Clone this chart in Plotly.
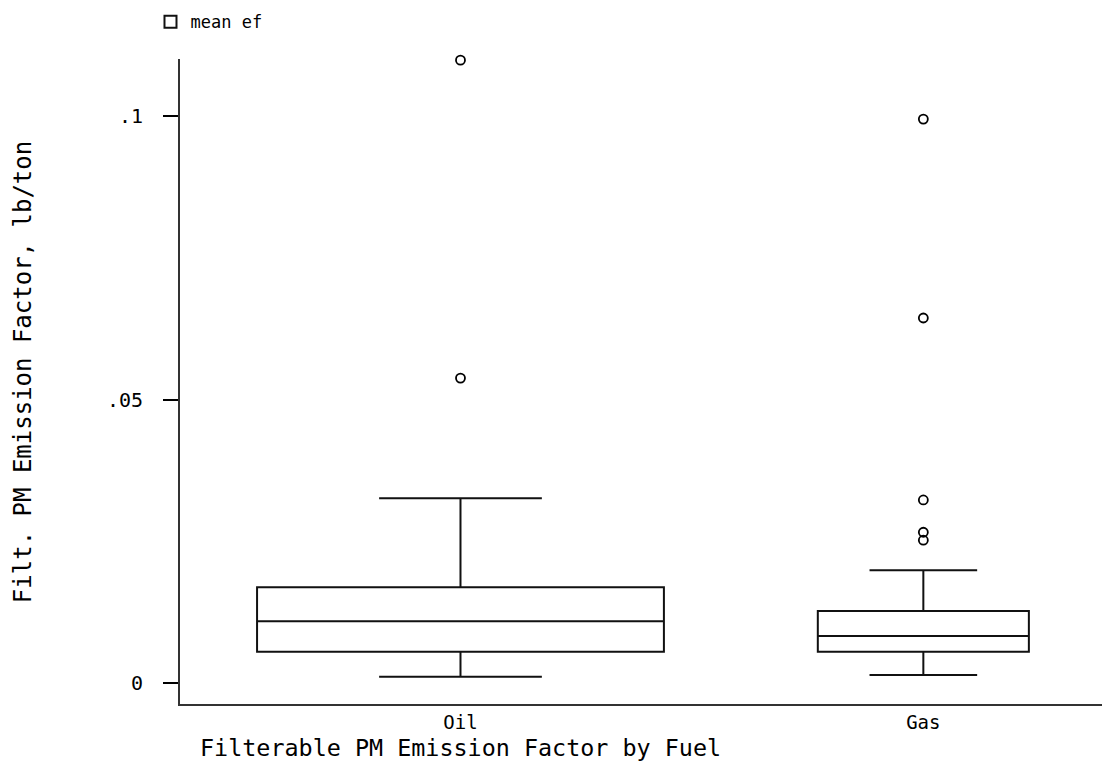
import plotly.graph_objects as go

# ---- data ----
fuels = ["Oil", "Gas"]
q1 = [0.0055, 0.0055]
median = [0.0109, 0.0083]
q3 = [0.0169, 0.0127]
lower_fence = [0.0011, 0.0014]
upper_fence = [0.0326, 0.0199]
outliers_oil = [0.1099, 0.0538]
outliers_gas = [0.0995, 0.0644, 0.0323, 0.0266, 0.0252]
y_tickvals = [0, 0.05, 0.1]
y_ticktext = ["0", ".05", ".1"]

box_widths = [0.879, 0.456]
whisker_widths = [0.40, 0.51]
outliers = [outliers_oil, outliers_gas]

MONO = "DejaVu Sans Mono"
fig = go.Figure()

for i, f in enumerate(fuels):
    fig.add_trace(go.Box(
        x=[f], q1=[q1[i]], median=[median[i]], q3=[q3[i]],
        lowerfence=[lower_fence[i]], upperfence=[upper_fence[i]],
        width=box_widths[i], whiskerwidth=whisker_widths[i],
        fillcolor="rgba(255,255,255,0)",
        line=dict(color="#111", width=2),
        boxpoints=False,
        name="mean ef", showlegend=(i == 0), legendgroup="ef",
    ))
    fig.add_trace(go.Scatter(
        x=[f] * len(outliers[i]), y=outliers[i], mode="markers",
        marker=dict(symbol="circle-open", size=9, color="black",
                    line=dict(width=1.8, color="black")),
        cliponaxis=False,
        showlegend=False, legendgroup="ef", hoverinfo="y",
    ))

fig.update_layout(
    width=1102, height=774,
    margin=dict(l=180, r=0, t=59, b=70),
    paper_bgcolor="white", plot_bgcolor="white",
    font=dict(family=MONO, color="black", size=20),
    showlegend=True,
    legend=dict(x=-0.032, y=1.057, xanchor="left", yanchor="middle",
                font=dict(family=MONO, size=17), bgcolor="rgba(0,0,0,0)",
                itemwidth=30),
    xaxis=dict(
        type="category", categoryorder="array", categoryarray=fuels,
        range=[-0.606, 1.386],
        showline=True, linecolor="#333", linewidth=2,
        ticks="", showgrid=False, zeroline=False,
        tickfont=dict(family=MONO, size=19),
    ),
    yaxis=dict(
        range=[-0.0037, 0.1101],
        tickvals=y_tickvals, ticktext=y_ticktext,
        ticks="outside", ticklen=15, tickwidth=1.5, tickcolor="black",
        showline=True, linecolor="#333", linewidth=2,
        showgrid=False, zeroline=False,
        tickfont=dict(family=MONO, size=20),
        ticklabelstandoff=16,
    ),
    annotations=[
        dict(text="Filterable PM Emission Factor by Fuel", xref="paper", yref="paper",
             x=0.0195, y=-0.068, xanchor="left", yanchor="middle", showarrow=False,
             font=dict(family=MONO, size=23.4)),
        dict(text="Filt. PM Emission Factor, lb/ton", xref="paper", yref="paper",
             x=-0.171, y=0.515, xanchor="center", yanchor="middle", textangle=-90,
             showarrow=False, font=dict(family=MONO, size=24)),
    ],
)

fig.write_html("out.html")
